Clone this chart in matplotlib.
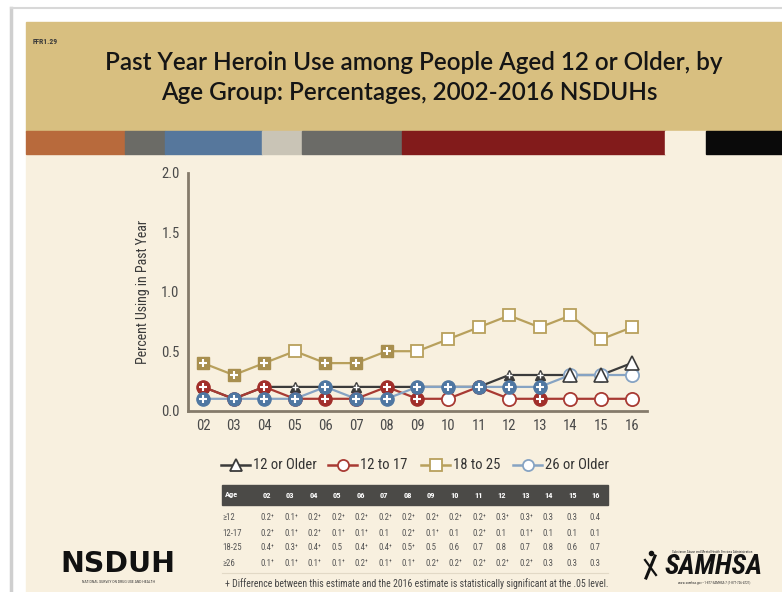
import matplotlib
matplotlib.use("Agg")
import matplotlib.pyplot as plt
from matplotlib import font_manager
from matplotlib.patches import Rectangle

# survey years (20xx) and percent using heroin in past year
years = ["02", "03", "04", "05", "06", "07", "08", "09", "10", "11", "12", "13", "14", "15", "16"]
older12 = [0.2, 0.1, 0.2, 0.2, 0.2, 0.2, 0.2, 0.2, 0.2, 0.2, 0.3, 0.3, 0.3, 0.3, 0.4]
age12_17 = [0.2, 0.1, 0.2, 0.1, 0.1, 0.1, 0.2, 0.1, 0.1, 0.2, 0.1, 0.1, 0.1, 0.1, 0.1]
age18_25 = [0.4, 0.3, 0.4, 0.5, 0.4, 0.4, 0.5, 0.5, 0.6, 0.7, 0.8, 0.7, 0.8, 0.6, 0.7]
older26 = [0.1, 0.1, 0.1, 0.1, 0.2, 0.1, 0.1, 0.2, 0.2, 0.2, 0.2, 0.2, 0.3, 0.3, 0.3]

# 1 = differs significantly from the 2016 estimate
sig_older12 = [1, 1, 1, 1, 1, 1, 1, 1, 1, 1, 1, 1, 0, 0, 0]
sig_12_17 = [1, 1, 1, 1, 1, 0, 1, 1, 0, 1, 0, 1, 0, 0, 0]
sig_18_25 = [1, 1, 1, 0, 1, 1, 1, 0, 0, 0, 0, 0, 0, 0, 0]
sig_older26 = [1, 1, 1, 1, 1, 1, 1, 1, 1, 1, 1, 1, 0, 0, 0]

series_names = ["12 or Older", "12 to 17", "18 to 25", "26 or Older"]
row_labels = ["\u226512", "12-17", "18-25", "\u226526"]

installed = {f.name for f in font_manager.fontManager.ttflist}
NARROW = [f for f in ["Liberation Sans Narrow", "Roboto Condensed", "DejaVu Sans"] if f in installed] + ["DejaVu Sans"]
TITLE = ["Lato", "Open Sans", "DejaVu Sans"]

fig = plt.figure(figsize=(7.82, 5.92), dpi=100)
fig.patch.set_facecolor("white")

# page layer in pixel coordinates
bg = fig.add_axes([0, 0, 1, 1])
bg.set_xlim(0, 782)
bg.set_ylim(592, 0)
bg.axis("off")
bg.set_zorder(0)

bg.plot([11, 11], [8, 592], color="#cfcfcf", lw=2.5)
bg.plot([11, 782], [8, 8], color="#d8d8d8", lw=1.5)
bg.add_patch(Rectangle((26, 22), 756, 110, color="#d8bf80"))
bg.add_patch(Rectangle((26, 154), 756, 438, color="#f8f0df"))

stripes = [(26, 125, "#b86a3c"), (125, 165, "#6b6b66"), (165, 262, "#56779c"),
           (262, 302, "#c9c4b6"), (302, 402, "#6b6b67"), (402, 665, "#821b1b"),
           (665, 706, "#f8f0df"), (706, 782, "#0a0a0a")]
for x0, x1, c in stripes:
    bg.add_patch(Rectangle((x0, 131), x1 - x0, 23, color=c))

bg.text(33, 42, "FFR1.29", fontsize=5.5, fontweight="bold", color="#3a3a3a",
        family=NARROW, va="center")
bg.text(414, 62, "Past Year Heroin Use among People Aged 12 or Older, by",
        fontsize=17.5, family=TITLE, color="#151515", ha="center", va="center",
        fontweight="semibold")
bg.text(409, 93, "Age Group: Percentages, 2002-2016 NSDUHs",
        fontsize=17.5, family=TITLE, color="#151515", ha="center", va="center",
        fontweight="semibold")

# series styling
styles = [
    dict(vals=older12, sig=sig_older12, color="#3b3b3b", line="#3b3b3b", marker="^"),
    dict(vals=age12_17, sig=sig_12_17, color="#a12e2a", line="#a83a33", marker="o"),
    dict(vals=age18_25, sig=sig_18_25, color="#a88f4f", line="#b8a05c", marker="s"),
    dict(vals=older26, sig=sig_older26, color="#4f77a2", line="#86a3c3", marker="o"),
]

ax = fig.add_axes([188 / 782, 1 - 410.7 / 592, (647 - 188) / 782, (410.7 - 172.7) / 592])
ax.set_zorder(2)
ax.patch.set_alpha(0)
x = list(range(len(years)))
for st, zl in zip(styles, [2.1, 2.2, 2.0, 2.3]):
    ax.plot(x, st["vals"], color=st["line"], lw=1.6, zorder=zl)

zfill = [4, 5, 3, 6]
zopen = [7, 5, 3, 6]
for st, zf, zo in zip(styles, zfill, zopen):
    xs_f = [i for i in x if st["sig"][i]]
    ys_f = [st["vals"][i] for i in x if st["sig"][i]]
    xs_o = [i for i in x if not st["sig"][i]]
    ys_o = [st["vals"][i] for i in x if not st["sig"][i]]
    if st["marker"] == "^":
        ax.plot(xs_f, ys_f, ls="none", marker="^", ms=7, mfc=st["color"], mec=st["color"],
                zorder=zf, clip_on=False)
        ax.plot(xs_f, ys_f, ls="none", marker="+", ms=4, mew=1.0, color="white",
                zorder=zf + 0.01, clip_on=False)
        ax.plot(xs_o, ys_o, ls="none", marker="^", ms=10, mfc="white", mec=st["color"],
                mew=1.2, zorder=zo, clip_on=False)
    else:
        ms = 9 if st["marker"] == "s" else 9.5
        ax.plot(xs_f, ys_f, ls="none", marker=st["marker"], ms=ms, mfc=st["color"],
                mec=st["color"], mew=1.0, zorder=zf, clip_on=False)
        ax.plot(xs_f, ys_f, ls="none", marker="+", ms=6, mew=1.5, color="white",
                zorder=zf + 0.01, clip_on=False)
        ax.plot(xs_o, ys_o, ls="none", marker=st["marker"], ms=ms, mfc="white",
                mec=st["line"], mew=1.3, zorder=zo, clip_on=False)

ax.set_xlim(-0.49, 14.5)
ax.set_ylim(0, 2.0)
ax.set_xticks(x)
ax.set_xticklabels(years)
ax.set_yticks([0, 0.5, 1.0, 1.5, 2.0])
ax.set_yticklabels(["0.0", "0.5", "1.0", "1.5", "2.0"])
for s in ["top", "right"]:
    ax.spines[s].set_visible(False)
for s in ["left", "bottom"]:
    ax.spines[s].set_color("#857b6b")
    ax.spines[s].set_linewidth(2)
ax.tick_params(length=0, labelsize=10.5, labelcolor="#4a4a4a", pad=6)
for lab in ax.get_xticklabels() + ax.get_yticklabels():
    lab.set_family(NARROW)
ax.set_ylabel("Percent Using in Past Year", fontsize=10, color="#3a3a3a",
              family=NARROW, labelpad=8)

# legend row
leg_x = [221, 328, 421, 513]
for st, name, lx in zip(styles, series_names, leg_x):
    bg.plot([lx, lx + 29], [465, 465], color=st["line"], lw=1.8)
    bg.plot([lx + 14.5], [465], marker=st["marker"], ms=8, mfc="white",
            mec=st["line"], mew=1.3)
    bg.text(lx + 32, 465, name, fontsize=10.5, family=NARROW, color="#333333",
            va="center", ha="left")

# data table
bg.add_patch(Rectangle((222, 485), 386, 20, color="#4b4a47"))
bg.text(225, 495, "Age", fontsize=6, fontweight="bold", color="white",
        family=NARROW, va="center")
col_x = [266.7 + 23.5 * i for i in range(len(years))]
for cx, yr in zip(col_x, years):
    bg.text(cx, 495, yr, fontsize=6, fontweight="bold", color="white",
            family=NARROW, va="center", ha="center")
row_y = [518, 533, 548, 563]
for ry, lab, st in zip(row_y, row_labels, styles):
    bg.text(222, ry, lab, fontsize=6.3, color="#555555", family=NARROW, va="center")
    for cx, v, s in zip(col_x, st["vals"], st["sig"]):
        bg.text(cx - 6, ry, f"{v:.1f}", fontsize=6.3, color="#555555", family=NARROW,
                va="center", ha="left")
        if s:
            bg.text(cx + 4.5, ry - 1.5, "+", fontsize=4, color="#555555",
                    family=NARROW, va="center", ha="left")
bg.plot([222, 608], [573, 573], color="#e2d9c6", lw=0.8)
bg.text(225, 584, "+ Difference between this estimate and the 2016 estimate is statistically "
        "significant at the .05 level.", fontsize=7, color="#444444", family=NARROW,
        va="center", ha="left")

# NSDUH mark
bg.text(118, 564, "NSDUH", fontsize=20.5, fontweight="bold", color="#111111",
        family="DejaVu Sans", ha="center", va="center")
bg.text(118, 582, "NATIONAL SURVEY ON DRUG USE AND HEALTH", fontsize=2.8,
        color="#333333", family=NARROW, ha="center", va="center")

# SAMHSA mark
bg.text(714, 567, "SAMHSA", fontsize=20, fontweight="bold", style="italic",
        color="#111111", family=NARROW, ha="center", va="center")
bg.plot([646, 655], [578, 556], color="#111111", lw=2.2)
bg.plot([645, 656], [560, 575], color="#111111", lw=1.6)
bg.plot([650.5], [553], marker="o", ms=3, color="#111111")
bg.text(712, 552, "Substance Abuse and Mental Health Services Administration",
        fontsize=2.4, color="#333333", family=NARROW, ha="center", va="center")
bg.text(714, 583, "www.samhsa.gov \u2022 1-877-SAMHSA-7 (1-877-726-4727)",
        fontsize=2.4, color="#333333", family=NARROW, ha="center", va="center")

fig.savefig("out.png", dpi=100)
